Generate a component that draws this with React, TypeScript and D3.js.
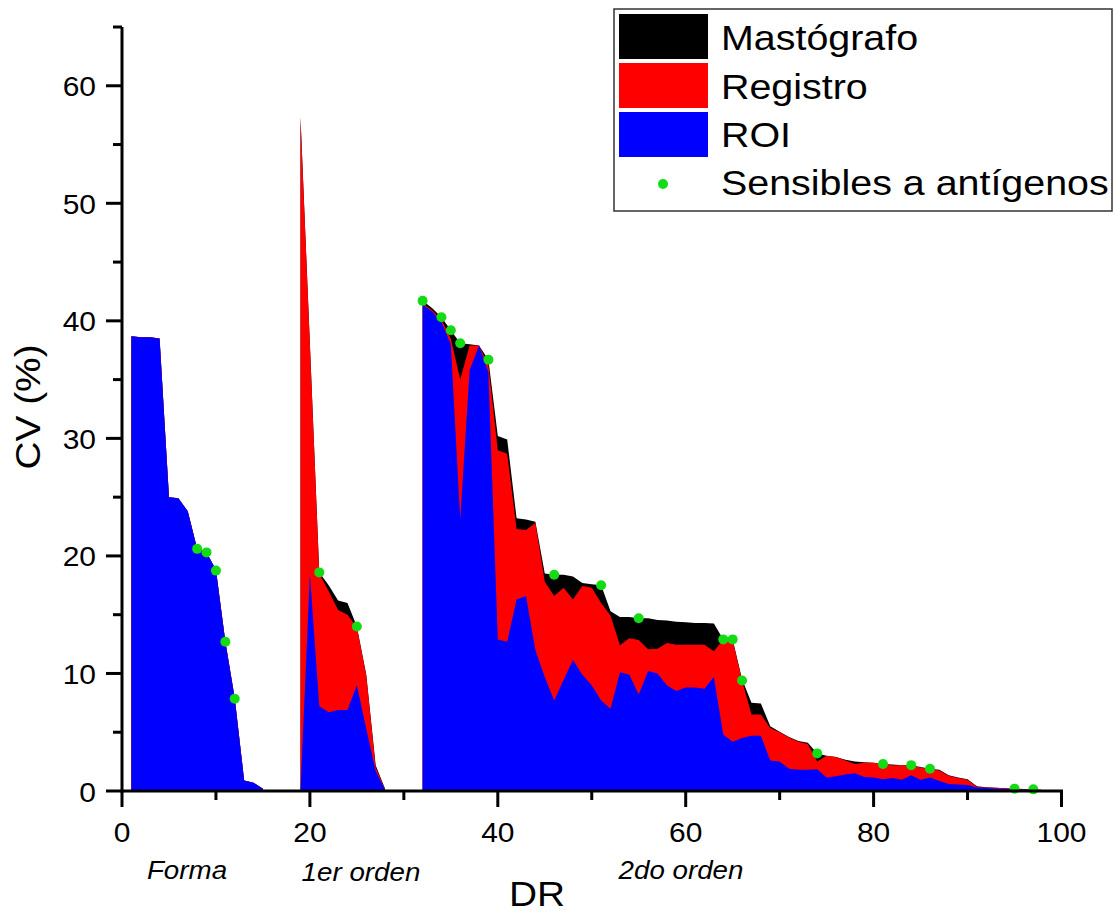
import React from "react";
import * as d3 from "d3";

// ---- Data ----
const formaDR = [1, 2, 3, 4, 5, 6, 7, 8, 9, 10, 11, 12, 13, 14, 15];
const formaROI = [38.7, 38.6, 38.6, 38.5, 25.0, 24.9, 23.8, 20.6, 20.3, 18.8, 12.7, 7.9, 0.9, 0.7, 0.2];
const formaRegistro = [38.7, 38.6, 38.6, 38.5, 25.0, 24.9, 23.8, 20.6, 20.3, 18.8, 12.7, 7.9, 0.9, 0.7, 0.2];
const formaMastografo = [38.7, 38.6, 38.6, 38.5, 25.0, 24.9, 23.8, 20.6, 20.3, 18.8, 12.7, 7.9, 0.9, 0.7, 0.2];

const ordenUnoDR = [19, 20, 21, 22, 23, 24, 25, 26, 27, 28];
const ordenUnoROI = [0, 18.5, 7.2, 6.7, 6.9, 6.9, 9.0, 5.3, 1.7, 0.1];
const ordenUnoRegistro = [57.3, 38.0, 18.5, 17.0, 15.4, 15.0, 13.9, 9.8, 2.0, 0.15];
const ordenUnoMastografo = [57.3, 38.0, 18.6, 17.5, 16.2, 16.0, 14.0, 9.9, 2.2, 0.2];

const ordenDosDR = [
  32, 33, 34, 35, 36, 37, 38, 39, 40, 41, 42, 43, 44, 45, 46, 47, 48, 49, 50, 51, 52, 53,
  54, 55, 56, 57, 58, 59, 60, 61, 62, 63, 64, 65, 66, 67, 68, 69, 70, 71, 72, 73, 74, 75,
  76, 77, 78, 79, 80, 81, 82, 83, 84, 85, 86, 87, 88, 89, 90, 91, 92, 93, 94, 95, 96, 97, 98,
];
const ordenDosROI = [
  41.4, 40.8, 39.9, 38.0, 23.1, 35.8, 37.9, 35.6, 12.9, 12.7, 16.3, 16.6, 12.0, 9.7, 7.7, 9.45,
  11.15, 9.9, 9.0, 7.7, 7.0, 10.1, 9.9, 8.2, 10.2, 10.0, 9.0, 8.5, 8.8, 8.8, 8.7, 9.7, 4.8, 4.2,
  4.5, 4.7, 4.7, 2.6, 2.5, 1.9, 1.8, 1.8, 1.85, 1.15, 1.25, 1.4, 1.5, 1.2, 1.15, 1.0, 1.1, 0.95,
  1.35, 0.95, 1.15, 0.85, 0.6, 0.55, 0.5, 0.3, 0.25, 0.22, 0.2, 0.15, 0.12, 0.1, 0.05,
];
const ordenDosRegistro = [
  41.5, 40.9, 40.1, 38.5, 35.0, 37.9, 37.9, 36.2, 29.0, 28.7, 22.3, 22.2, 22.8, 17.8, 16.6, 17.3,
  16.3, 17.45, 17.3, 16.0, 14.9, 12.4, 13.0, 12.85, 12.05, 12.1, 12.6, 12.45, 12.45, 12.45, 12.45,
  11.9, 12.9, 12.8, 9.4, 6.5, 6.5, 5.35, 5.0, 4.55, 4.2, 4.0, 2.5, 3.0, 2.9, 2.6, 2.3, 2.4, 2.4,
  2.3, 2.2, 2.2, 2.15, 2.0, 1.85, 1.75, 1.3, 1.1, 0.95, 0.35, 0.3, 0.27, 0.23, 0.2, 0.16, 0.14, 0.08,
];
const ordenDosMastografo = [
  41.7, 41.1, 40.3, 39.2, 38.1, 38.0, 37.9, 36.7, 30.2, 29.9, 23.2, 23.1, 22.9, 18.5, 18.4, 18.4,
  18.25, 17.7, 17.6, 17.5, 15.3, 14.8, 14.8, 14.7, 14.7, 14.55, 14.5, 14.4, 14.35, 14.3, 14.3,
  14.25, 12.9, 12.9, 9.5, 7.5, 7.45, 5.5, 5.05, 4.6, 4.25, 4.1, 3.2, 3.0, 2.9, 2.65, 2.5, 2.45,
  2.4, 2.3, 2.25, 2.2, 2.2, 2.05, 1.9, 1.8, 1.35, 1.15, 1.0, 0.4, 0.32, 0.28, 0.24, 0.2, 0.16, 0.14, 0.08,
];

const sensiblesDR = [8, 9, 10, 11, 12, 21, 25, 32, 34, 35, 36, 39, 46, 51, 55, 64, 65, 66, 74, 81, 84, 86, 95, 97];
const sensiblesCV = [20.6, 20.3, 18.75, 12.7, 7.85, 18.6, 14.0, 41.7, 40.3, 39.2, 38.1, 36.7, 18.4, 17.5, 14.7, 12.9, 12.9, 9.4, 3.2, 2.3, 2.2, 1.9, 0.2, 0.14];

const groupLabels = ["Forma", "1er orden", "2do orden"];
const legendLabels = ["Mastógrafo", "Registro", "ROI", "Sensibles a antígenos"];
const xMajorTicks = [0, 20, 40, 60, 80, 100];
const xMinorTicks = [10, 30, 50, 70, 90];
const yMajorTicks = [0, 10, 20, 30, 40, 50, 60];
const yMinorTicks = [5, 15, 25, 35, 45, 55, 65];

// ---- Styling ----
const W = 1115;
const H = 915;
const FONT = "'Liberation Sans', Arial, Helvetica, sans-serif";
const SX = 1.11; // horizontal stretch of the reference text
const COL_MAS = "#000000";
const COL_REG = "#ff0000";
const COL_ROI = "#0000ff";
const COL_DOT = "#14dc14";

type Pt = { dr: number; v: number };

function zip(dr: number[], v: number[]): Pt[] {
  return dr.map((d, i) => ({ dr: d, v: v[i] }));
}

function SText(props: {
  x: number;
  y: number;
  size: number;
  anchor?: "start" | "middle" | "end";
  italic?: boolean;
  rotate?: number;
  children: React.ReactNode;
}) {
  const { x, y, size, anchor = "start", italic, rotate = 0, children } = props;
  return (
    <text
      transform={`translate(${x},${y}) rotate(${rotate}) scale(${SX},1)`}
      fontFamily={FONT}
      fontSize={size}
      fontStyle={italic ? "italic" : "normal"}
      textAnchor={anchor}
      fill="#000"
    >
      {children}
    </text>
  );
}

export default function App() {
  const x = d3.scaleLinear().domain([0, 100]).range([122, 1061.5]);
  const y = d3.scaleLinear().domain([0, 65]).range([791, 27]);

  const area = d3
    .area<Pt>()
    .x((d) => x(d.dr))
    .y0(y(0))
    .y1((d) => y(d.v))
    .curve(d3.curveLinear);

  const groups = [
    { dr: formaDR, roi: formaROI, reg: formaRegistro, mas: formaMastografo },
    { dr: ordenUnoDR, roi: ordenUnoROI, reg: ordenUnoRegistro, mas: ordenUnoMastografo },
    { dr: ordenDosDR, roi: ordenDosROI, reg: ordenDosRegistro, mas: ordenDosMastografo },
  ];

  const groupLabelPos = [
    { x: 187, y: 879 },
    { x: 361, y: 880.5 },
    { x: 681, y: 879 },
  ];

  const legendRowsY = [14, 63, 112];
  const legendColors = [COL_MAS, COL_REG, COL_ROI];
  const legendBaselines = [50, 98.5, 147, 195];

  return (
    <svg
      width={W}
      height={H}
      viewBox={`0 0 ${W} ${H}`}
      style={{ position: "absolute", left: 0, top: 0, background: "#fff" }}
    >
      <rect x={0} y={0} width={W} height={H} fill="#fff" />

      {/* areas: Mastógrafo (black), Registro (red), ROI (blue) */}
      {groups.map((g, i) => (
        <g key={`g${i}`}>
          <path d={area(zip(g.dr, g.mas)) || ""} fill={COL_MAS} />
          <path d={area(zip(g.dr, g.reg)) || ""} fill={COL_REG} />
          <path d={area(zip(g.dr, g.roi)) || ""} fill={COL_ROI} />
        </g>
      ))}

      {/* Sensibles a antígenos */}
      {sensiblesDR.map((d, i) => (
        <circle key={`s${i}`} cx={x(d)} cy={y(sensiblesCV[i])} r={5} fill={COL_DOT} />
      ))}

      {/* axes */}
      <line x1={x(0)} x2={x(0)} y1={y(0) + 1.5} y2={y(65)} stroke="#000" strokeWidth={3} />
      <line x1={x(0) - 1.5} x2={x(100) + 1.5} y1={y(0)} y2={y(0)} stroke="#000" strokeWidth={3} />

      {xMajorTicks.map((t) => (
        <g key={`xm${t}`}>
          <line x1={x(t)} x2={x(t)} y1={y(0)} y2={y(0) + 16} stroke="#000" strokeWidth={3} />
          <SText x={x(t)} y={842} size={27} anchor="middle">
            {t}
          </SText>
        </g>
      ))}
      {xMinorTicks.map((t) => (
        <line key={`xn${t}`} x1={x(t)} x2={x(t)} y1={y(0)} y2={y(0) + 9} stroke="#000" strokeWidth={3} />
      ))}
      {yMajorTicks.map((t) => (
        <g key={`ym${t}`}>
          <line x1={x(0) - 16} x2={x(0)} y1={y(t)} y2={y(t)} stroke="#000" strokeWidth={3} />
          <SText x={96} y={y(t) + 10.5} size={27} anchor="end">
            {t}
          </SText>
        </g>
      ))}
      {yMinorTicks.map((t) => (
        <line key={`yn${t}`} x1={x(0) - 9} x2={x(0)} y1={y(t)} y2={y(t)} stroke="#000" strokeWidth={3} />
      ))}

      {/* group labels */}
      {groupLabels.map((l, i) => (
        <SText key={`gl${i}`} x={groupLabelPos[i].x} y={groupLabelPos[i].y} size={25} anchor="middle" italic>
          {l}
        </SText>
      ))}

      {/* axis titles */}
      <SText x={509} y={906} size={35}>
        DR
      </SText>
      <SText x={40} y={407} size={35} anchor="middle" rotate={-90}>
        CV (%)
      </SText>

      {/* legend */}
      <rect x={614} y={9} width={498} height={202} fill="#fff" stroke="#333" strokeWidth={1.5} />
      {legendColors.map((c, i) => (
        <rect key={`lr${i}`} x={619} y={legendRowsY[i]} width={89} height={45} fill={c} />
      ))}
      <circle cx={663} cy={184} r={5} fill={COL_DOT} />
      {legendLabels.map((l, i) => (
        <SText key={`ll${i}`} x={721} y={legendBaselines[i]} size={35.5}>
          {l}
        </SText>
      ))}
    </svg>
  );
}
